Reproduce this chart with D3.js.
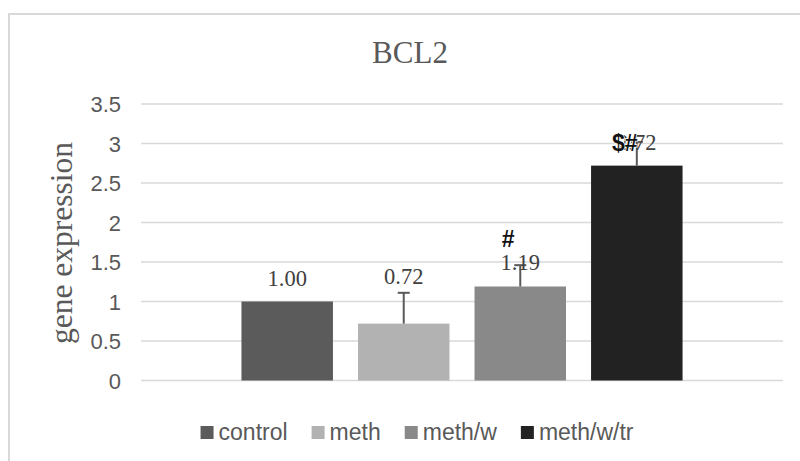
<!DOCTYPE html>
<html>
<head>
<meta charset="utf-8">
<script src="https://cdn.jsdelivr.net/npm/d3@7"></script>
<style>
    html, body { margin: 0; padding: 0; background: #fff; }
    svg { display: block; }
</style>
</head>
<body>
<div id="chart"></div>
<script>
const series = ["control", "meth", "meth/w", "meth/w/tr"]
const values = [1.00, 0.72, 1.19, 2.72]
const errors = [0, 0.39, 0.27, 0.30]
const labels = ["1.00", "0.72", "1.19", "2.72"]
const marks = ["", "", "#", "$#"]
const yTicks = [0, 0.5, 1, 1.5, 2, 2.5, 3, 3.5]
const colors = ["#5b5b5b", "#b2b2b2", "#898989", "#222222"]

const width = 800, height = 461
const sans = "'Liberation Sans', Arial, sans-serif"
const serif = "'Liberation Serif', 'Times New Roman', serif"

const svg = d3.select("#chart").append("svg")
    .attr("width", width)
    .attr("height", height)

// chart frame (only top and left edges visible in the crop)
svg.append("path")
    .attr("d", `M9,${height} V14 H${width}`)
    .attr("fill", "none")
    .attr("stroke", "#d9d9d9")
    .attr("stroke-width", 2)

const y = d3.scaleLinear().domain([0, 3.5]).range([380.5, 104])

// one category, four series side by side
const x = d3.scaleBand()
    .domain(series)
    .range([141, 783])
    .paddingInner(0.215)
    .paddingOuter(0.862)

// gridlines
svg.append("g")
    .selectAll("line")
    .data(yTicks)
    .join("line")
    .attr("x1", 141)
    .attr("x2", 783)
    .attr("y1", d => y(d))
    .attr("y2", d => y(d))
    .attr("stroke", "#d9d9d9")
    .attr("stroke-width", 1.5)

// y tick labels
svg.append("g")
    .selectAll("text")
    .data(yTicks)
    .join("text")
    .attr("x", 121)
    .attr("y", d => y(d) + 8)
    .attr("text-anchor", "end")
    .attr("font-family", sans)
    .attr("font-size", 22)
    .attr("fill", "#595959")
    .text(d => d)

// axis title
svg.append("text")
    .attr("transform", `translate(72, 243) rotate(-90)`)
    .attr("text-anchor", "middle")
    .attr("font-family", serif)
    .attr("font-size", 31.5)
    .attr("fill", "#595959")
    .text("gene expression")

// chart title
svg.append("text")
    .attr("x", 410)
    .attr("y", 63)
    .attr("text-anchor", "middle")
    .attr("font-family", serif)
    .attr("font-size", 31)
    .attr("fill", "#595959")
    .text("BCL2")

const data = series.map((s, i) => ({
    name: s, value: values[i], err: errors[i], label: labels[i], mark: marks[i], color: colors[i]
}))

// bars
svg.append("g")
    .selectAll("rect")
    .data(data)
    .join("rect")
    .attr("x", d => x(d.name))
    .attr("width", x.bandwidth())
    .attr("y", d => y(d.value))
    .attr("height", d => y(0) - y(d.value))
    .attr("fill", d => d.color)

// error bars (plus direction only)
const errG = svg.append("g")
    .selectAll("g")
    .data(data.filter(d => d.err > 0))
    .join("g")
    .attr("stroke", "#595959")
    .attr("stroke-width", 2)
errG.append("line")
    .attr("x1", d => x(d.name) + x.bandwidth() / 2)
    .attr("x2", d => x(d.name) + x.bandwidth() / 2)
    .attr("y1", d => y(d.value))
    .attr("y2", d => y(d.value + d.err))
errG.append("line")
    .attr("x1", d => x(d.name) + x.bandwidth() / 2 - 6)
    .attr("x2", d => x(d.name) + x.bandwidth() / 2 + 6)
    .attr("y1", d => y(d.value + d.err))
    .attr("y2", d => y(d.value + d.err))

// data labels - the meth one was dragged above its error bar
svg.append("g")
    .selectAll("text")
    .data(data)
    .join("text")
    .attr("x", d => x(d.name) + x.bandwidth() / 2)
    .attr("y", d => d.err > 0.35 ? y(d.value + d.err) - 9 : y(d.value) - 16)
    .attr("text-anchor", "middle")
    .attr("font-family", serif)
    .attr("font-size", 22.5)
    .attr("fill", "#404040")
    .text(d => d.label)

// significance marks (sit on top of the labels, as in the source)
svg.append("g")
    .selectAll("text")
    .data(data.filter(d => d.mark))
    .join("text")
    .attr("x", d => x(d.name) + x.bandwidth() / 2 - 12)
    .attr("y", d => d.name === "meth/w" ? y(d.value + d.err) - 18 : y(d.value) - 15)
    .attr("text-anchor", "middle")
    .attr("font-family", sans)
    .attr("font-weight", "bold")
    .attr("font-size", 23)
    .attr("fill", "#111")
    .attr("stroke", "#fff")
    .attr("stroke-width", 1.5)
    .attr("paint-order", "stroke")
    .text(d => d.mark)

// legend
const legend = svg.append("g")
const items = legend.selectAll("g")
    .data(data)
    .join("g")
items.append("rect")
    .attr("width", 13)
    .attr("height", 13)
    .attr("y", 426)
    .attr("fill", d => d.color)
items.append("text")
    .attr("x", 18)
    .attr("y", 440)
    .attr("font-family", sans)
    .attr("font-size", 23)
    .attr("fill", "#595959")
    .text(d => d.name)

let cursor = 0
items.each(function () {
    const g = d3.select(this)
    g.attr("transform", `translate(${cursor},0)`)
    cursor += 18 + g.select("text").node().getComputedTextLength() + 24
})
const legendWidth = cursor - 24
legend.attr("transform", `translate(${417 - legendWidth / 2},0)`)
</script>
</body>
</html>
